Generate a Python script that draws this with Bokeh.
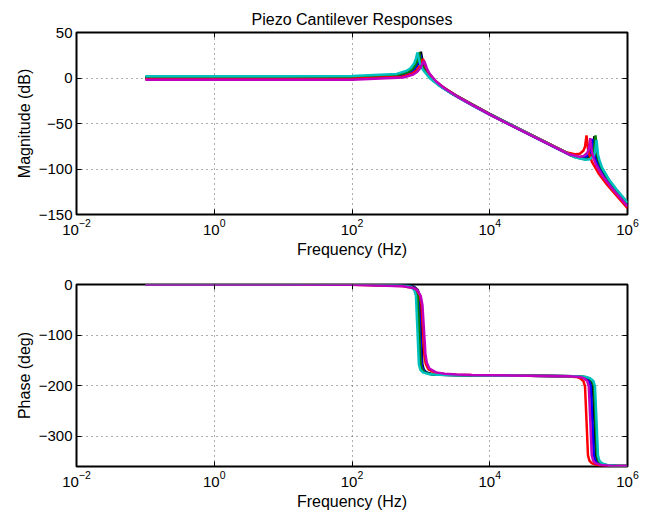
from bokeh.plotting import figure
from bokeh.layouts import column
from bokeh.models import (FixedTicker, LinearAxis, LogAxis, CustomJSTickFormatter, Range1d,
                          LogTickFormatter)
from bokeh.embed import file_html
from bokeh.resources import INLINE

# ---------------- data (frequencies given as log10(Hz)) -------------
series_names = ["black", "blue", "green", "red", "cyan", "magenta"]
series_colors = ["#000000", "#0000FF", "#008000", "#FF0000", "#00BFBF", "#BF00BF"]

black_logf = [-1, 1, 2, 2.699, 2.845, 2.903, 2.954, 2.978, 3.0, 3.021, 3.041, 3.079, 3.176, 3.301, 3.477, 3.699, 4.0,
              5.219, 5.365, 5.423, 5.474, 5.498, 5.52, 5.541, 5.561, 5.599, 5.696, 5.821, 6.0]
black_mag = [0.5, 0.5, 0.6, 3.0, 6.4, 9.4, 14.8, 20.1, 29.0, 19.6, 14.0, 7.6, -1.4, -9.0, -17.6, -27.1, -39.5,
             -85.8, -88.2, -87.5, -84.2, -79.8, -64.0, -82.0, -88.4, -96.4, -109.2, -121.8, -137.6]
black_phase = [0, 0, -0.2, -1.5, -3.1, -5.1, -10.7, -21.3, -90, -157.7, -168.2, -173.8, -177.7, -178.5, -179.2, -179.5, -179.8,
               -181.5, -182.8, -185.1, -190.7, -201.3, -270, -337.7, -348.2, -353.8, -357.7, -358.5, -359.2]

blue_logf = [-1, 1, 2, 2.689, 2.835, 2.893, 2.944, 2.968, 2.99, 3.011, 3.031, 3.069, 3.166, 3.291, 3.467, 3.689, 3.99,
             5.189, 5.335, 5.393, 5.444, 5.468, 5.49, 5.511, 5.531, 5.569, 5.666, 5.791, 6.0]
blue_mag = [0, 0, 0.1, 2.5, 5.9, 8.9, 14.2, 19.3, 26.0, 18.8, 13.3, 7.1, -1.9, -9.5, -18.1, -27.6, -40.0,
            -85.5, -87.9, -87.2, -83.9, -79.5, -67.0, -81.7, -88.1, -96.1, -108.9, -121.5, -140.0]
blue_phase = [0, 0, -0.2, -1.5, -3.1, -5.1, -10.7, -21.3, -90, -157.7, -168.2, -173.8, -177.7, -178.5, -179.2, -179.5, -179.8,
              -181.5, -182.8, -185.1, -190.7, -201.3, -270, -337.7, -348.2, -353.8, -357.7, -358.5, -359.2]

green_logf = [-1, 1, 2, 2.674, 2.82, 2.878, 2.929, 2.953, 2.975, 2.996, 3.016, 3.054, 3.151, 3.276, 3.452, 3.674, 3.975,
              5.234, 5.38, 5.438, 5.489, 5.513, 5.535, 5.556, 5.576, 5.614, 5.711, 5.836, 6.0]
green_mag = [1, 1, 1.1, 3.5, 6.9, 9.9, 15.3, 20.6, 28.0, 20.1, 14.5, 8.1, -0.9, -8.5, -17.1, -26.6, -39.0,
             -86.9, -89.3, -88.6, -85.3, -80.9, -63.0, -83.1, -89.5, -97.5, -110.3, -122.9, -137.5]
green_phase = [0, 0, -0.2, -1.5, -3.1, -5.1, -10.7, -21.3, -90, -157.7, -168.2, -173.8, -177.7, -178.5, -179.2, -179.5, -179.8,
               -181.5, -182.8, -185.1, -190.7, -201.3, -270, -337.7, -348.2, -353.8, -357.7, -358.5, -359.2]

red_logf = [-1, 1, 2, 2.729, 2.875, 2.933, 2.984, 3.008, 3.03, 3.051, 3.071, 3.109, 3.206, 3.331, 3.507, 3.729, 4.03,
            5.104, 5.25, 5.308, 5.359, 5.383, 5.405, 5.426, 5.446, 5.484, 5.581, 5.706, 6.0]
red_mag = [-1, -1, -0.9, 1.5, 4.9, 7.9, 12.8, 17.2, 21.0, 16.6, 11.8, 6.1, -2.9, -10.5, -19.1, -28.6, -41.0,
           -81.5, -83.9, -83.2, -79.9, -75.5, -63.0, -77.7, -84.1, -92.1, -104.9, -117.5, -143.0]
red_phase = [0, 0, -0.5, -3.1, -6.3, -10.1, -20.8, -37.9, -90, -140.7, -157.3, -167.7, -174.5, -177.0, -178.3, -179.1, -179.5,
             -181.5, -182.8, -185.1, -190.7, -201.3, -270, -337.7, -348.2, -353.8, -357.7, -358.5, -359.2]

cyan_logf = [-1, 1, 2, 2.649, 2.795, 2.853, 2.904, 2.928, 2.95, 2.971, 2.991, 3.029, 3.126, 3.251, 3.427, 3.649, 3.95,
             5.249, 5.395, 5.453, 5.504, 5.528, 5.55, 5.571, 5.591, 5.629, 5.726, 5.851, 6.0]
cyan_mag = [2, 2, 2.1, 4.5, 7.9, 10.9, 16.2, 21.3, 28.0, 20.8, 15.3, 9.1, 0.1, -7.5, -16.1, -25.6, -38.0,
            -87.5, -89.9, -89.2, -85.9, -81.5, -68.0, -83.7, -90.1, -98.1, -110.9, -123.5, -136.8]
cyan_phase = [0, 0, -0.2, -1.5, -3.1, -5.1, -10.7, -21.3, -90, -157.7, -168.2, -173.8, -177.7, -178.5, -179.2, -179.5, -179.8,
              -181.5, -182.8, -185.1, -190.7, -201.3, -270, -337.7, -348.2, -353.8, -357.7, -358.5, -359.2]

magenta_logf = [-1, 1, 2, 2.744, 2.89, 2.948, 2.999, 3.023, 3.045, 3.066, 3.086, 3.124, 3.221, 3.346, 3.522, 3.744, 4.045,
                5.159, 5.305, 5.363, 5.414, 5.438, 5.46, 5.481, 5.501, 5.539, 5.636, 5.761, 6.0]
magenta_mag = [-2, -2, -1.9, 0.5, 3.9, 6.9, 11.7, 15.7, 19.0, 15.1, 10.7, 4.9, -3.9, -11.5, -20.1, -29.6, -42.0,
               -84.1, -86.5, -85.8, -82.5, -78.1, -66.0, -80.3, -86.7, -94.7, -107.5, -120.1, -141.1]
magenta_phase = [0, 0, -0.5, -3.4, -7.0, -11.3, -23.1, -41.2, -90, -137.3, -154.8, -166.2, -173.8, -176.6, -178.1, -179.0, -179.5,
                 -181.5, -182.8, -185.1, -190.7, -201.3, -270, -337.7, -348.2, -353.8, -357.7, -358.5, -359.2]

x_tick_values = [1e-2, 1e0, 1e2, 1e4, 1e6]
mag_ticks = [-150, -100, -50, 0, 50]
phase_ticks = [-300, -200, -100, 0]

all_logf = [black_logf, blue_logf, green_logf, red_logf, cyan_logf, magenta_logf]
all_mag = [black_mag, blue_mag, green_mag, red_mag, cyan_mag, magenta_mag]
all_phase = [black_phase, blue_phase, green_phase, red_phase, cyan_phase, magenta_phase]

FONT = "Liberation Sans"
TICK_PX = 15

yfmt_code = """
return tick < 0 ? "\u2212" + Math.abs(tick) : String(tick);
"""
blank_code = """
return " ";
"""


def make_fig(ylabel, yrange, yticks, height, btop, bbottom, title=None):
    p = figure(width=649, height=height, x_axis_type="log",
               x_range=Range1d(1e-2, 1e6), y_range=Range1d(*yrange),
               output_backend="svg", toolbar_location=None,
               min_border_left=76, min_border_right=22,
               min_border_top=btop, min_border_bottom=bbottom)
    p.background_fill_color = "white"
    p.border_fill_color = "white"
    p.outline_line_color = "black"
    p.outline_line_width = 2
    p.outline_line_alpha = 1.0
    if title:
        p.title.text = title
        p.title.align = "center"
        p.title.text_font = FONT
        p.title.text_font_size = "16px"
        p.title.text_font_style = "normal"
        p.title.text_color = "black"
    xt = FixedTicker(ticks=x_tick_values, minor_ticks=[])
    yt = FixedTicker(ticks=yticks, minor_ticks=[])
    p.xaxis.ticker = xt
    p.xaxis.formatter = LogTickFormatter(min_exponent=0)
    p.yaxis.ticker = yt
    p.yaxis.formatter = CustomJSTickFormatter(code=yfmt_code)
    p.xaxis.axis_label = "Frequency (Hz)"
    p.yaxis.axis_label = ylabel
    for ax in (p.xaxis[0], p.yaxis[0]):
        ax.axis_line_color = None
        ax.major_tick_in = 5
        ax.major_tick_out = 0
        ax.major_tick_line_color = "black"
        ax.minor_tick_line_color = None
        ax.major_label_text_font = FONT
        ax.major_label_text_font_size = "%dpx" % TICK_PX
        ax.major_label_text_color = "black"
        ax.axis_label_text_font = FONT
        ax.axis_label_text_font_size = "16px"
        ax.axis_label_text_font_style = "normal"
        ax.axis_label_text_color = "black"
        ax.major_label_standoff = 4
        ax.axis_label_standoff = 3
    # box ticks on top and right
    top = LogAxis(ticker=xt, formatter=CustomJSTickFormatter(code=blank_code),
                  major_label_text_font_size="2px", major_label_text_alpha=0.0,
                  axis_line_color=None, major_tick_in=5, major_tick_out=0,
                  minor_tick_line_color=None, major_label_standoff=0)
    right = LinearAxis(ticker=yt, formatter=CustomJSTickFormatter(code=blank_code),
                       major_label_text_font_size="2px", major_label_text_alpha=0.0,
                       axis_line_color=None, major_tick_in=5, major_tick_out=0,
                       minor_tick_line_color=None, major_label_standoff=0)
    p.add_layout(top, "above")
    p.add_layout(right, "right")
    p.xgrid.ticker = xt
    p.ygrid.ticker = yt
    for g in (p.xgrid[0], p.ygrid[0]):
        g.grid_line_color = "#333333"
        g.grid_line_dash = "1 4"
        g.grid_line_width = 1
        g.grid_line_alpha = 0.8
    return p


p1 = make_fig("Magnitude (dB)", (-150, 50), mag_ticks, 260, 32, 44,
              title="Piezo Cantilever Responses")
p2 = make_fig("Phase (deg)", (-360, 0), phase_ticks, 254, 24, 48)

for name, color, lf, mg, ph in zip(series_names, series_colors, all_logf, all_mag, all_phase):
    f = [10.0 ** v for v in lf]
    p1.line(f, mg, line_color=color, line_width=2.5)
    p2.line(f, ph, line_color=color, line_width=2.5)

layout = column(p1, p2, spacing=0)
open("out.html", "w").write(file_html(layout, INLINE))
